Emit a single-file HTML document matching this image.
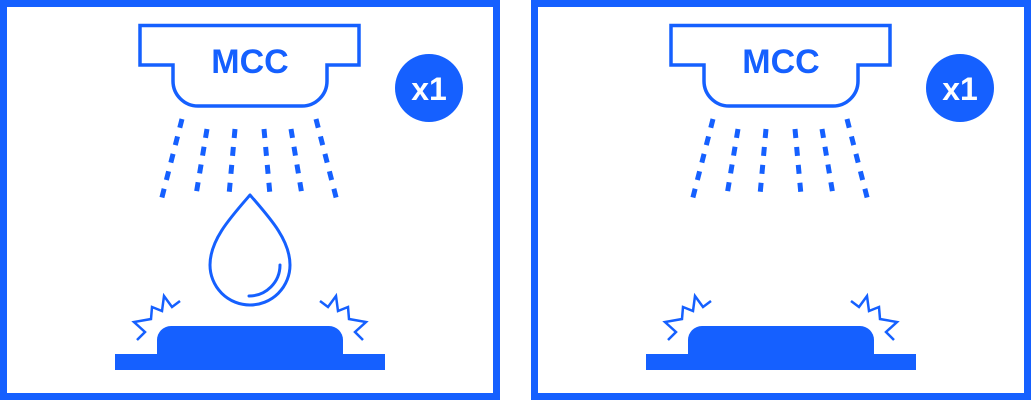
<!DOCTYPE html>
<html><head><style>html,body{margin:0;padding:0;background:#fff}svg{display:block}</style></head>
<body>
<svg width="1031" height="400" viewBox="0 0 1031 400" xmlns="http://www.w3.org/2000/svg">
<defs>
<g id="p">
  <path d="M140 25.5 H359 V65 H327 V81 A25 25 0 0 1 302 106 H198 A25 25 0 0 1 173 81 V65 H140 Z" fill="none" stroke="#1560FF" stroke-width="3.5"/>
  <text x="250" y="73" text-anchor="middle" font-family="Liberation Sans, sans-serif" font-weight="bold" font-size="34" fill="#1560FF">MCC</text>
  <circle cx="429" cy="88" r="34" fill="#1560FF"/>
  <text x="429" y="100" text-anchor="middle" font-family="Liberation Sans, sans-serif" font-weight="bold" font-size="32" fill="#fff">x1</text>
  <g stroke="#1560FF" stroke-width="5" stroke-dasharray="9 9" fill="none">
    <line x1="182" y1="119" x2="161" y2="201"/>
    <line x1="207" y1="129" x2="196" y2="195"/>
    <line x1="235" y1="129" x2="229" y2="195"/>
    <line x1="264" y1="129" x2="270" y2="195"/>
    <line x1="291" y1="129" x2="302" y2="195"/>
    <line x1="316" y1="119" x2="337" y2="201"/>
  </g>
  <rect x="115" y="354" width="270" height="16" fill="#1560FF"/>
  <path d="M157 356 V340 A14 14 0 0 1 171 326 H329 A14 14 0 0 1 343 340 V356 Z" fill="#1560FF"/>
  <polyline points="137,340 145,332 134,322 151,319 152,307 162,311 164,296 172,307 180,301" fill="none" stroke="#1560FF" stroke-width="2.5"/>
  <polyline points="363,340 355,332 366,322 349,319 348,307 338,311 336,296 328,307 320,301" fill="none" stroke="#1560FF" stroke-width="2.5"/>
</g>
</defs>
<rect x="3.5" y="3.5" width="493" height="393" fill="none" stroke="#1560FF" stroke-width="7"/>
<rect x="534.5" y="3.5" width="493" height="393" fill="none" stroke="#1560FF" stroke-width="7"/>
<use href="#p"/>
<use href="#p" x="531"/>
<path d="M250 195 C230 218 210 240 210 265 A40 40 0 0 0 290 265 C290 240 270 218 250 195 Z" fill="none" stroke="#1560FF" stroke-width="3" stroke-linejoin="round"/>
<path d="M280 265 A31 31 0 0 1 249 296" fill="none" stroke="#1560FF" stroke-width="3" stroke-linecap="round"/>
</svg>
</body></html>
